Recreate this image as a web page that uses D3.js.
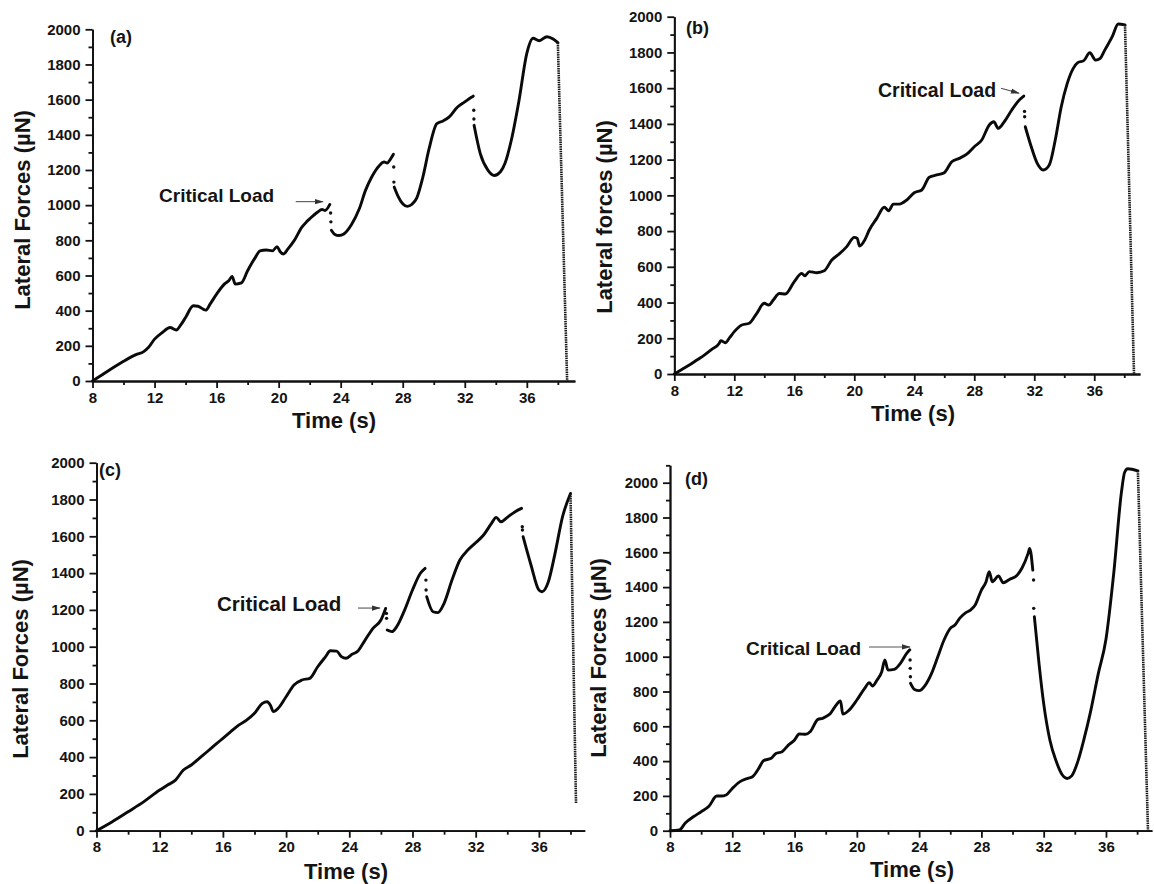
<!DOCTYPE html>
<html>
<head>
<meta charset="utf-8">
<script src="https://cdn.jsdelivr.net/npm/d3@7"></script>
<style>
  body { margin: 0; background: #ffffff; }
  svg text { font-family: "Liberation Sans", Arial, Helvetica, sans-serif; font-weight: bold; fill: #141414; }
</style>
</head>
<body>
<svg id="fig" width="1154" height="884"></svg>
<script>
// ---------- shared labels and ticks ----------
const timeTicks = [8, 12, 16, 20, 24, 28, 32, 36];
const forceTicks = [0, 200, 400, 600, 800, 1000, 1200, 1400, 1600, 1800, 2000];
const panelLetters = ["(a)", "(b)", "(c)", "(d)"];
const yTitles = ["Lateral Forces (\u00B5N)", "Lateral forces (\u00B5N)", "Lateral Forces (\u00B5N)", "Lateral Forces (\u00B5N)"];
const xTitle = "Time (s)";
const noteText = "Critical Load";

// ---------- panel (a) ----------
const segmentsA = [
  [[8,0],[8.5,28],[9,57],[9.5,85],[10,112],[10.5,137],[10.8,150],[11.3,167],[11.6,190],[12,238],[12.5,276],[13,304],[13.4,290],[13.7,320],[14,361],[14.5,428],[14.8,425],[15.3,403],[15.6,440],[16,494],[16.5,551],[16.8,572],[17,595],[17.2,551],[17.6,558],[18,627],[18.5,703],[18.8,740],[19.2,745],[19.6,740],[19.9,764],[20.1,735],[20.3,722],[20.6,751],[21,798],[21.5,875],[21.8,905],[22,922],[22.5,960],[22.8,975],[23,970],[23.3,1004]],
  [[23.4,857],[23.6,835],[23.9,827],[24.2,836],[24.7,890],[25.2,979],[25.6,1084],[26,1160],[26.5,1226],[26.8,1245],[27,1240],[27.2,1260],[27.4,1289]],
  [[27.45,1103],[27.7,1050],[28,1008],[28.3,993],[28.6,1005],[28.9,1040],[29.3,1160],[29.7,1321],[30.2,1464],[30.6,1479],[31,1502],[31.5,1555],[32,1587],[32.4,1612],[32.55,1620]],
  [[32.6,1454],[33,1293],[33.5,1198],[33.9,1169],[34.3,1190],[34.6,1240],[35,1369],[35.5,1597],[36,1863],[36.4,1949],[36.8,1935],[37.3,1958],[37.7,1945],[38,1924]]
];
const jumpDotsA = [[23.35,955],[23.37,905],[27.42,1217],[27.43,1131],[32.58,1540],[32.59,1490]];
const dropA = [[38,1924],[38.6,0]];
const noteA = { text: [12.29, 1018], from: [21.1, 1020], to: [22.85, 1020] };

// ---------- panel (b) ----------
const segmentsB = [
  [[8,0],[8.5,25],[9,50],[9.5,78],[10,106],[10.5,138],[11,172],[11.1,187],[11.4,175],[11.7,205],[12,237],[12.5,274],[13,284],[13.5,340],[14,396],[14.3,386],[14.6,414],[15,451],[15.4,448],[16,517],[16.5,563],[16.7,549],[17,573],[17.5,567],[18,578],[18.5,638],[19,672],[19.5,713],[20,765],[20.2,759],[20.35,716],[20.7,750],[21,806],[21.5,871],[22,933],[22.3,914],[22.6,951],[23,951],[23.5,974],[24,1015],[24.5,1030],[25,1101],[25.5,1114],[26,1127],[26.5,1188],[27,1207],[27.5,1231],[28,1272],[28.5,1310],[29,1394],[29.3,1412],[29.6,1375],[30,1412],[30.5,1478],[31,1534],[31.3,1556]],
  [[31.4,1384],[31.8,1272],[32.2,1179],[32.6,1142],[33,1170],[33.4,1310],[33.8,1496],[34.2,1627],[34.6,1711],[34.9,1743],[35.3,1754],[35.7,1798],[36.1,1757],[36.4,1767],[36.7,1813],[37.2,1888],[37.6,1959],[38.05,1954]]
];
const jumpDotsB = [[31.35,1470],[31.36,1440]];
const dropB = [[38.05,1954],[38.65,0]];
const noteB = { text: [21.58, 1550], from: [29.78, 1600], to: [30.98, 1572] };

// ---------- panel (c) ----------
const segmentsC = [
  [[8,0],[9,49],[10,103],[11,158],[12,221],[12.5,248],[13,275],[13.5,330],[14,357],[14.5,393],[15,429],[15.5,466],[16,502],[16.5,538],[17,574],[17.5,601],[18,638],[18.5,692],[18.8,701],[19,683],[19.2,647],[19.5,665],[20,728],[20.5,792],[21,819],[21.5,828],[22,891],[22.5,946],[22.8,978],[23.2,976],[23.5,946],[23.8,937],[24.2,960],[24.5,973],[25,1036],[25.5,1100],[26,1145],[26.3,1208]],
  [[26.4,1091],[26.7,1082],[27,1109],[27.5,1199],[28,1308],[28.5,1399],[28.8,1426]],
  [[28.9,1272],[29.3,1190],[29.6,1185],[30,1236],[30.5,1362],[31,1471],[31.5,1525],[32,1565],[32.5,1607],[33,1670],[33.3,1703],[33.6,1679],[34,1703],[34.5,1734],[34.9,1752]],
  [[35,1598],[35.5,1444],[36,1308],[36.2,1299],[36.6,1353],[37,1498],[37.5,1707],[38,1833]]
];
const jumpDotsC = [[26.35,1181],[26.36,1154],[28.85,1362],[28.86,1308],[34.95,1652],[34.96,1634]];
const dropC = [[38,1833],[38.35,150]];
const noteC = { text: [15.63, 1194], from: [24.55, 1210], to: [25.94, 1210] };

// ---------- panel (d) ----------
const segmentsD = [
  [[8,0],[8.6,4],[9,46],[9.5,80],[10,109],[10.5,140],[11,199],[11.3,199],[11.6,205],[12,243],[12.5,282],[13,301],[13.3,310],[13.7,358],[14,402],[14.5,416],[14.8,444],[15.2,454],[15.6,492],[16,521],[16.3,556],[16.7,554],[17,569],[17.5,640],[17.8,646],[18,655],[18.3,674],[18.6,713],[18.95,745],[19.1,670],[19.5,693],[20,751],[20.5,818],[20.8,851],[21,831],[21.3,866],[21.6,914],[21.8,981],[22,923],[22.4,927],[22.8,962],[23.2,1019],[23.4,1040]],
  [[23.45,847],[23.7,812],[24,805],[24.4,837],[24.8,904],[25.2,1000],[25.6,1096],[26,1163],[26.3,1182],[26.6,1220],[27,1253],[27.3,1268],[27.6,1297],[28,1383],[28.3,1431],[28.5,1489],[28.7,1431],[29.1,1464],[29.4,1425],[29.8,1444],[30.3,1469],[30.6,1508],[31,1594],[31.1,1622],[31.3,1498]],
  [[31.4,1230],[31.7,960],[32,730],[32.4,520],[32.8,400],[33.2,320],[33.5,300],[33.8,315],[34.2,400],[34.6,530],[35,680],[35.5,900],[36,1100],[36.5,1480],[37,1950],[37.2,2060],[37.4,2080],[38.05,2068]]
];
const jumpDotsD = [[23.42,981],[23.43,933],[23.44,885],[31.35,1441],[31.36,1278]];
const dropD = [[38.05,2068],[38.7,0]];
const noteD = { text: [12.88, 1010], from: [20.78, 1056], to: [23.41, 1056] };

// ---------- layout of the four plot frames ----------
const panels = [
  { seg: segmentsA, dots: jumpDotsA, drop: dropA, note: noteA, tMax: 39.1, fMax: 2000,
    px: [92.5, 574.9], py: [381, 29.3], fTop: 2000,
    letter: [110, 43], yT: [30, 210], xT: [334, 428], noteSize: 19 },
  { seg: segmentsB, dots: jumpDotsB, drop: dropB, note: noteB, tMax: 39.05, fMax: 2000,
    px: [674.3, 1140], py: [374, 16.7], fTop: 2000,
    letter: [686, 34], yT: [612, 217], xT: [913, 421], noteSize: 19.5 },
  { seg: segmentsC, dots: jumpDotsC, drop: dropC, note: noteC, tMax: 38.9, fMax: 2000,
    px: [96.5, 584.7], py: [830.7, 462.7], fTop: 2000,
    letter: [99, 476], yT: [28, 659], xT: [346, 879], noteSize: 20.5 },
  { seg: segmentsD, dots: jumpDotsD, drop: dropD, note: noteD, tMax: 38.95, fMax: 2100,
    px: [670, 1151.9], py: [830.7, 465.3], fTop: 2100,
    letter: [685, 485], yT: [606, 658], xT: [912, 877], noteSize: 19 }
];

const svg = d3.select("#fig");

svg.append("defs").append("marker")
  .attr("id", "arrowHead")
  .attr("viewBox", "0 0 10 6")
  .attr("refX", 9).attr("refY", 3)
  .attr("markerWidth", 9).attr("markerHeight", 5.5)
  .attr("markerUnits", "userSpaceOnUse")
  .attr("orient", "auto")
  .append("path").attr("d", "M0,0 L10,3 L0,6 Z").attr("fill", "#333");

panels.forEach((p, i) => {
  const x = d3.scaleLinear().domain([8, p.tMax]).range(p.px);
  const y = d3.scaleLinear().domain([0, p.fMax]).range(p.py);
  const g = svg.append("g");

  // axes: major ticks with labels, minor ticks without
  const styleAxis = sel => {
    sel.select(".domain").attr("stroke", "#111").attr("stroke-width", 1.8);
    sel.selectAll(".tick line").attr("stroke", "#111").attr("stroke-width", 1.8);
    sel.selectAll(".tick text").attr("font-size", 15).attr("fill", "#141414")
      .attr("font-family", "'Liberation Sans', Arial, sans-serif").attr("font-weight", "bold");
  };

  const yMinor = d3.range(100, p.fTop + 1, 200);
  const xMinor = d3.range(10, p.tMax, 4);

  g.append("g").attr("transform", `translate(${p.px[0]},0)`)
    .call(d3.axisLeft(y).tickValues(yMinor).tickSize(4).tickSizeOuter(0).tickFormat(""))
    .call(styleAxis);
  g.append("g").attr("transform", `translate(${p.px[0]},0)`)
    .call(d3.axisLeft(y).tickValues(forceTicks).tickSize(7).tickSizeOuter(0).tickPadding(5).tickFormat(d3.format("d")))
    .call(styleAxis);

  g.append("g").attr("transform", `translate(0,${p.py[0]})`)
    .call(d3.axisBottom(x).tickValues(xMinor).tickSize(4).tickSizeOuter(0).tickFormat(""))
    .call(styleAxis);
  g.append("g").attr("transform", `translate(0,${p.py[0]})`)
    .call(d3.axisBottom(x).tickValues(timeTicks).tickSize(7).tickSizeOuter(0).tickPadding(4).tickFormat(d3.format("d")))
    .call(styleAxis);

  // axis titles
  g.append("text")
    .attr("transform", `translate(${p.yT[0]},${p.yT[1]}) rotate(-90)`)
    .attr("text-anchor", "middle").attr("font-size", 22)
    .text(yTitles[i]);
  g.append("text")
    .attr("x", p.xT[0]).attr("y", p.xT[1])
    .attr("text-anchor", "middle").attr("font-size", 22)
    .text(xTitle);

  // panel letter
  g.append("text").attr("x", p.letter[0]).attr("y", p.letter[1])
    .attr("font-size", 18).text(panelLetters[i]);

  // continuous parts of the force trace
  const line = d3.line().x(d => x(d[0])).y(d => y(d[1])).curve(d3.curveMonotoneX);
  g.selectAll("path.trace").data(p.seg).enter().append("path")
    .attr("class", "trace")
    .attr("d", line)
    .attr("fill", "none").attr("stroke", "#0a0a0a")
    .attr("stroke-width", 2.9).attr("stroke-linejoin", "round").attr("stroke-linecap", "round");

  // sparse points across the sudden force drops
  g.selectAll("circle.jump").data(p.dots).enter().append("circle")
    .attr("class", "jump")
    .attr("cx", d => x(d[0])).attr("cy", d => y(d[1])).attr("r", 1.7)
    .attr("fill", "#111");

  // final unloading drop, densely sampled points
  g.append("path")
    .attr("d", d3.line().x(d => x(d[0])).y(d => y(d[1]))(p.drop))
    .attr("fill", "none").attr("stroke", "#1a1a1a")
    .attr("stroke-width", 2.6).attr("stroke-dasharray", "1.5,0.8");

  // critical load annotation
  g.append("text")
    .attr("x", x(p.note.text[0])).attr("y", y(p.note.text[1]))
    .attr("font-size", p.noteSize).attr("fill", "#1c1c1c")
    .text(noteText);
  g.append("line")
    .attr("x1", x(p.note.from[0])).attr("y1", y(p.note.from[1]))
    .attr("x2", x(p.note.to[0])).attr("y2", y(p.note.to[1]))
    .attr("stroke", "#555").attr("stroke-width", 1.1)
    .attr("marker-end", "url(#arrowHead)");
});
</script>
</body>
</html>
